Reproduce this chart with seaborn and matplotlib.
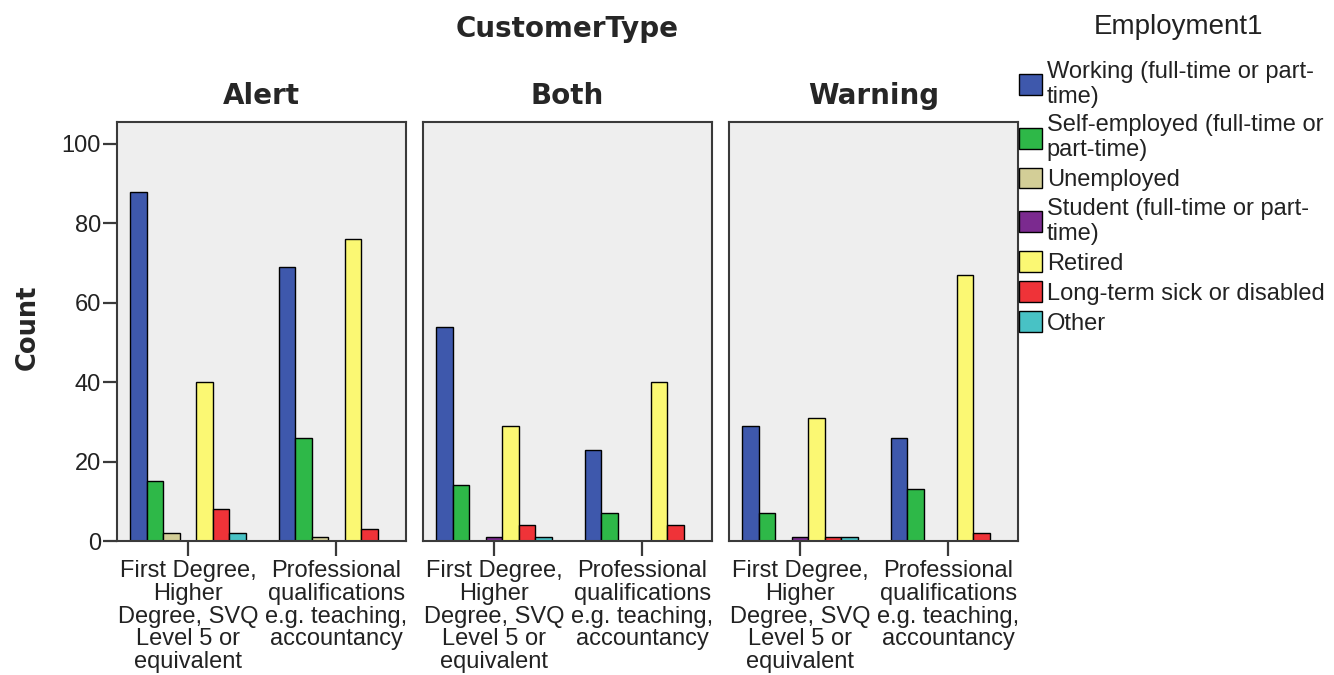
import pandas as pd
import matplotlib.pyplot as plt
import seaborn as sns
from matplotlib.patches import Patch

# Values
customer_types = ["Alert", "Both", "Warning"]
education = ["First Degree", "Professional"]
education_labels = ["First Degree,\nHigher\nDegree, SVQ\nLevel 5 or\nequivalent",
                    "Professional\nqualifications\ne.g. teaching,\naccountancy"]
employment = ["Working (full-time or part-\ntime)",
              "Self-employed (full-time or\npart-time)",
              "Unemployed",
              "Student (full-time or part-\ntime)",
              "Retired",
              "Long-term sick or disabled",
              "Other"]
colors = ["#3e58ac", "#2eb848", "#d3ce97", "#7b2a8f", "#fbf873", "#ef3338", "#48c2c5"]

alert_first = [88, 15, 2, 0, 40, 8, 2]
alert_prof = [69, 26, 1, 0, 76, 3, 0]
both_first = [54, 14, 0, 1, 29, 4, 1]
both_prof = [23, 7, 0, 0, 40, 4, 0]
warning_first = [29, 7, 0, 1, 31, 1, 1]
warning_prof = [26, 13, 0, 0, 67, 2, 0]

counts = {"Alert": (alert_first, alert_prof),
          "Both": (both_first, both_prof),
          "Warning": (warning_first, warning_prof)}

rows = []
for ct in customer_types:
    for edu, vals in zip(education, counts[ct]):
        for emp, v in zip(employment, vals):
            rows.append({"CustomerType": ct, "Education": edu, "Employment": emp, "Count": v})
df = pd.DataFrame(rows)

sns.set_theme(style="white")
plt.rcParams['font.family'] = ['Liberation Sans', 'DejaVu Sans']
bold_font = ['DejaVu Sans']

fig = plt.figure(figsize=(13.34, 6.75), dpi=100)
lefts = [117, 423, 729]
palette = dict(zip(employment, colors))

for i, ct in enumerate(customer_types):
    ax = fig.add_axes([lefts[i] / 1334, 1 - 541 / 675, 289 / 1334, 419 / 675])
    sub = df[(df.CustomerType == ct) & (df.Count > 0)]
    sns.barplot(data=sub, x="Education", y="Count", hue="Employment",
                order=education, hue_order=employment, palette=palette,
                width=0.78, edgecolor="black", linewidth=1, saturation=1,
                legend=False, ax=ax)
    ax.set_facecolor("#eeeeee")
    ax.set_xlim(-0.48, 1.47)
    ax.set_ylim(0, 105.5)
    for s in ax.spines.values():
        s.set_color("#3a3a3a")
        s.set_linewidth(1.5)
    ax.set_xticks([0, 1])
    ax.set_xticklabels(education_labels, fontsize=17, linespacing=1.04, color="#222222")
    ax.tick_params(axis="x", direction="out", length=10.5, width=1.6, color="#3a3a3a", bottom=True, pad=3.5)
    ax.set_xlabel("")
    ax.set_title(ct, fontsize=20, fontweight="bold", family=bold_font, pad=13)
    if i == 0:
        ax.set_yticks([0, 20, 40, 60, 80, 100])
        ax.tick_params(axis="y", direction="out", length=10, width=1.6, color="#3a3a3a", left=True,
                       labelsize=17, labelcolor="#222222", pad=1.5)
        ax.set_ylabel("Count", fontsize=18.5, fontweight="bold", family=bold_font)
        ax.yaxis.set_label_coords(-0.265, 0.51)
    else:
        ax.set_yticks([])
        ax.set_ylabel("")

fig.text(567 / 1334, 1 - 37 / 675, "CustomerType", ha="center", va="baseline",
         fontsize=20, fontweight="bold", family=bold_font)
fig.text(1178 / 1334, 1 - 34 / 675, "Employment1", ha="center", va="baseline",
         fontsize=20, color="#222222")

handles = [Patch(facecolor=c, edgecolor="black", linewidth=1) for c in colors]
leg = fig.legend(handles, employment, loc="upper left", bbox_to_anchor=(1019 / 1334, 1 - 61 / 675),
                 frameon=False, fontsize=17, handlelength=0.98, handleheight=0.98,
                 handletextpad=0.2, labelspacing=0.28, borderaxespad=0, borderpad=0)
for t in leg.get_texts():
    t.set_linespacing(1.16)
    t.set_color("#222222")

fig.savefig("out.png", dpi=100)
